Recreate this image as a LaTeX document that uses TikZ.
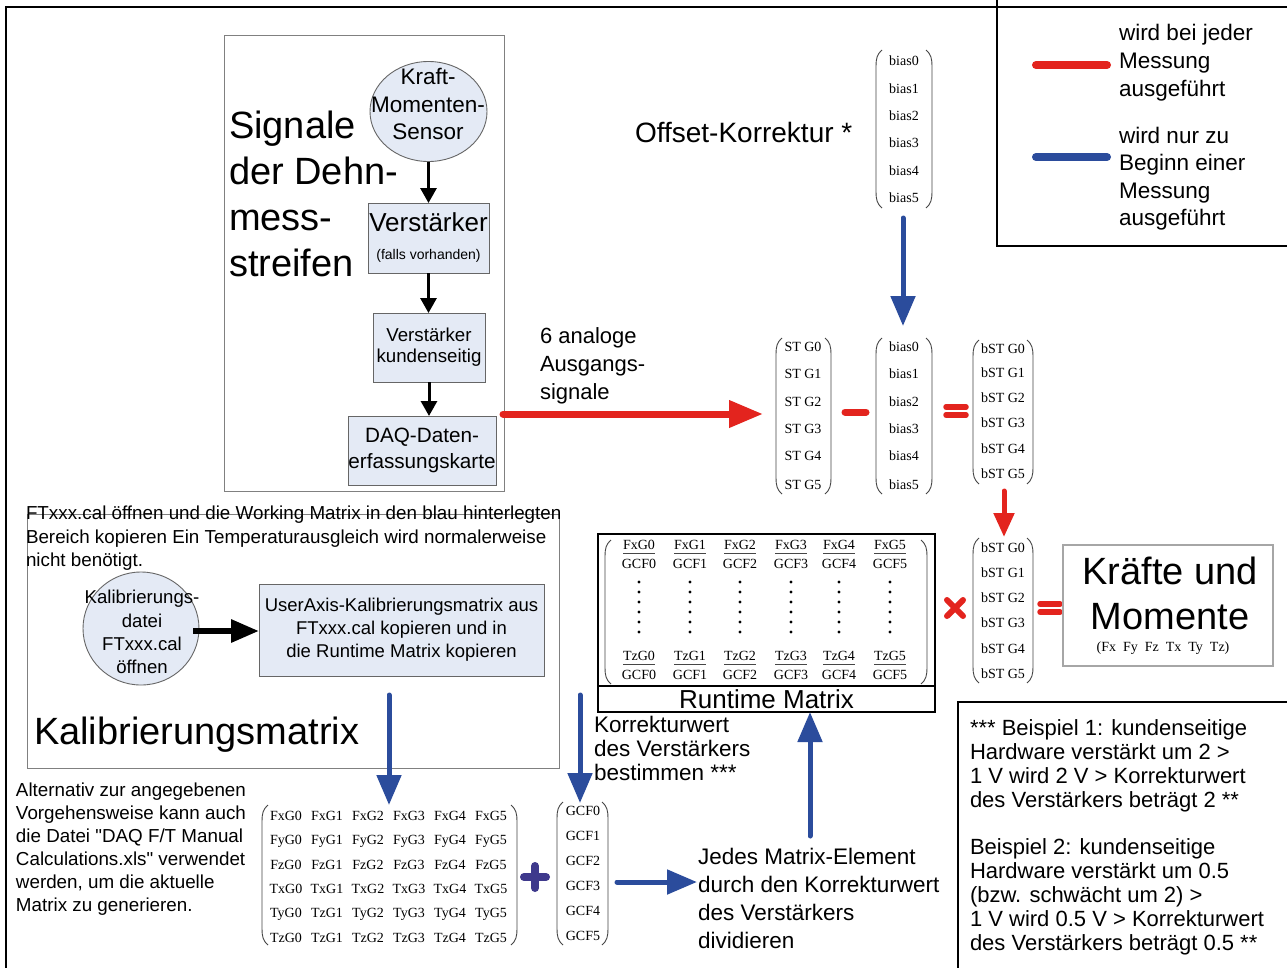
\documentclass[tikz,border=0pt]{standalone}
\usepackage{fontspec}
\setmainfont{Liberation Sans}
\newfontfamily\tms{Liberation Serif}
\usetikzlibrary{arrows.meta,calc,shapes.geometric}
\definecolor{myred}{RGB}{227,36,30}
\definecolor{myblue}{RGB}{43,76,156}
\definecolor{mypurple}{RGB}{62,57,140}
\definecolor{lblue}{RGB}{228,234,245}
\definecolor{boxgray}{RGB}{128,128,128}
\definecolor{pargray}{RGB}{70,70,70}
\newcommand{\fsz}[2]{\fontsize{#1}{#2}\selectfont}
\newcommand{\dq}{\XeTeXglyph\XeTeXcharglyph"22\relax}
\newcommand{\lpar}[3]{\draw[parline] (#1+6,#2) .. controls (#1+1,#2+4) and (#1,#2+9) .. (#1,#2+16) -- (#1,#3-16) .. controls (#1,#3-9) and (#1+1,#3-4) .. (#1+6,#3);}
\newcommand{\rpar}[3]{\draw[parline] (#1-6,#2) .. controls (#1-1,#2+4) and (#1,#2+9) .. (#1,#2+16) -- (#1,#3-16) .. controls (#1,#3-9) and (#1-1,#3-4) .. (#1-6,#3);}
\begin{document}
\begin{tikzpicture}[x=1pt,y=-1pt,
  every node/.style={inner sep=0pt, outer sep=0pt},
  parline/.style={draw=pargray, line width=0.9},
  ment/.style={font=\tms\fsz{14}{16}, text height=9.5pt, text depth=0pt, anchor=center},
  bluebox/.style={draw=boxgray!80!black, fill=lblue, line width=0.9, align=center},
  blueell/.style={ellipse, draw=boxgray!80!black, fill=lblue, line width=0.9},
  grp/.style={draw=boxgray, line width=1},
  blkar/.style={line width=3, -{Triangle[length=15pt,width=16pt]}},
  redar/.style={draw=myred, line width=7, line cap=round, -{Triangle[length=34pt,width=26pt]}},
  redarb/.style={draw=myred, line width=5, line cap=round, -{Triangle[length=24pt,width=20pt]}},
  bluar/.style={draw=myblue, line width=5, line cap=round, -{Triangle[length=30pt,width=24pt]}},
  redsym/.style={draw=myred, line width=7, line cap=round},
  sans/.style={anchor=base west, align=left}
]
\useasboundingbox (0,0) rectangle (1287,967);
\clip (0,0) rectangle (1287,967);
\fill[white] (0,0) rectangle (1287,967);

% outer frame, legend frame, example frame
\draw[line width=2] (6,7) rectangle (1300,990);
\draw[line width=1.5] (997,-5) rectangle (1300,246);
\draw[line width=1.5] (958,702) rectangle (1300,990);

% group boxes
\draw[grp] (224,35) rectangle (504,491);
\draw[grp] (27,514) rectangle (559,768);

% ===== sensor chain =====
% (base anchor of a multi-line node = baseline of its last line)
\node[sans, font=\fsz{38}{46}] (sig) at (229,276) {Signale\\der Dehn-\\mess-\\streifen};
\node[blueell, minimum width=117, minimum height=100] (sensor) at (428.5,111.5) {};
\node[align=center, font=\fsz{22.5}{27.5}] (sensortxt) at (428,104) {Kraft-\\Momenten-\\Sensor};
\node[bluebox, minimum width=121, minimum height=70] (verst) at (428.5,238) {};
\node[font=\fsz{26}{30}] (versttxt) at (428.5,222) {Verstärker};
\node[font=\fsz{14}{16}] (verstsub) at (428.5,256) {(falls vorhanden)};
\node[bluebox, minimum width=112, minimum height=69, font=\fsz{18.7}{21}] (kund) at (429,347.5) {Verstärker\\kundenseitig};
\node[bluebox, minimum width=148, minimum height=69, font=\fsz{20.7}{26}] (daq) at (422,450.5) {DAQ-Daten-\\erfassungskarte};
\draw[blkar] (sensor.south) -- (verst.north);
\draw[blkar] (verst.south) -- (verst.south |- kund.north);
\draw[blkar] (kund.south) -- (kund.south |- daq.north);

% ===== signal path =====
\node[sans, font=\fsz{22}{28}] (analog) at (540,399) {6 analoge\\Ausgangs-\\signale};
\coordinate (stin) at (763,414);
\draw[redar] ($(daq.north east)+(7,-2)$) -- (stin);

\node[sans, font=\fsz{28}{32}] (offset) at (635,142) {Offset-Korrektur *};

% top bias vector
\lpar{876}{50}{208}\rpar{932}{50}{208}
\foreach \y [count=\i from 0] in {61,89,116,143,171,198}
  \node[ment] (bt\i) at (904,\y) {bias\i};
% ST vector
\lpar{776}{338}{494}\rpar{831}{338}{494}
\foreach \y [count=\i from 0] in {347,374,402,429,456,485}
  \node[ment] (st\i) at (803,\y) {ST G\i};
% bias vector
\lpar{876}{338}{494}\rpar{932}{338}{494}
\foreach \y [count=\i from 0] in {347,374,402,429,456,485}
  \node[ment] (bm\i) at (904,\y) {bias\i};
% bST vector 1
\lpar{973}{340}{484}\rpar{1033}{340}{484}
\foreach \y [count=\i from 0] in {349,373,398,423,449,474}
  \node[ment] (ba\i) at (1003,\y) {bST G\i};
% bST vector 2
\lpar{973}{538}{683}\rpar{1033}{538}{683}
\foreach \y [count=\i from 0] in {548,573,598,623,649,674}
  \node[ment] (bb\i) at (1003,\y) {bST G\i};

\coordinate (btbot) at (903,218);
\coordinate (bmtop) at (903,326);
\draw[bluar] (btbot) -- (bmtop);

% minus and equals
\draw[redsym] (845,412) -- (866,412);
\draw[redsym, line width=5.5] (946,407) -- (966,407) (946,415) -- (966,415);
\coordinate (bafoot) at (1004,491);
\coordinate (bbtop) at (1004,537);
\draw[redarb] (bafoot) -- (bbtop);

% times and equals
\draw[redsym, line width=6] (947,600) -- (963,616) (947,616) -- (963,600);
\draw[redsym, line width=5.5] (1040,604) -- (1060,604) (1040,612) -- (1060,612);

% Kraefte box
\node[draw=boxgray!70, line width=1.2, minimum width=210, minimum height=121] (kraefte) at (1168,605.5) {};
\node[font=\fsz{38}{46}] (kr1) at (1170,571) {Kräfte und};
\node[font=\fsz{38}{46}] (kr2) at (1170,617) {Momente};
\node[font=\tms\fsz{14}{16}] (kr3) at (1163,648) {(Fx\ \ Fy\ \ Fz\ \ Tx\ \ Ty\ \ Tz)};

% ===== Runtime matrix =====
\node[draw, line width=2, minimum width=337, minimum height=178] (rtbox) at (766.5,623) {};
\draw[line width=2] (598,686) -- (935,686);
\node[font=\fsz{26}{30}] (rtlabel) at (766.5,699) {Runtime Matrix};
\lpar{605}{540}{684}\rpar{927}{540}{684}
\foreach \x [count=\j from 0] in {639,690,740,791,839,890} {
  \node[ment] (rn\j) at (\x,545) {FxG\j};
  \draw[pargray, line width=0.8] (\x-16,553) -- (\x+16,553);
  \node[ment] (rd\j) at (\x,564) {GCF\j};
  \foreach \k in {0,...,5} \fill (\x,582+10*\k) circle (1.7);
  \node[ment] (rt\j) at (\x,656) {TzG\j};
  \draw[pargray, line width=0.8] (\x-16,664) -- (\x+16,664);
  \node[ment] (rb\j) at (\x,675) {GCF\j};
}

% ===== calibration part =====
\node[sans, font=\fsz{18.8}{23.5}] (ftxxx) at (26,566.5) {FTxxx.cal öffnen und die Working Matrix in den blau hinterlegten\\Bereich kopieren Ein Temperaturausgleich wird normalerweise\\nicht benötigt.};
\node[blueell, minimum width=116, minimum height=113] (kalib) at (141,628.5) {};
\node[align=center, font=\fsz{18.6}{23.3}] (kalibtxt) at (142,632) {Kalibrierungs-\\datei\\FTxxx.cal\\öffnen};
\node[bluebox, minimum width=285, minimum height=92, font=\fsz{18.5}{23}] (useraxis) at (401.5,630) {UserAxis-Kalibrierungsmatrix aus\\FTxxx.cal kopieren und in\\die Runtime Matrix kopieren};
\draw[line width=6, -{Triangle[length=28pt,width=22pt]}] ($(kalib.east)+(-6,2.5)$) -- ($(useraxis.west)+(0,1)$);
\node[sans, font=\fsz{38}{46}] (kalibm) at (34,744) {Kalibrierungsmatrix};

\node[sans, font=\fsz{18.8}{23}] (altern) at (16,911) {Alternativ zur angegebenen\\Vorgehensweise kann auch\\die Datei \dq DAQ F/T Manual\\Calculations.xls\dq{} verwendet\\werden, um die aktuelle\\Matrix zu generieren.};

% big matrix
\lpar{262}{805}{945}\rpar{517}{805}{945}
\foreach \y/\row [count=\i from 0] in {
  816/{FxG0,FxG1,FxG2,FxG3,FxG4,FxG5},
  840/{FyG0,FyG1,FyG2,FyG3,FyG4,FyG5},
  865/{FzG0,FzG1,FzG2,FzG3,FzG4,FzG5},
  889/{TxG0,TxG1,TxG2,TxG3,TxG4,TxG5},
  913/{TyG0,TzG1,TyG2,TyG3,TyG4,TyG5},
  938/{TzG0,TzG1,TzG2,TzG3,TzG4,TzG5}}
  \foreach \t [count=\j from 0] in \row
    \node[ment] (cm\i\j) at ({286+41*\j},\y) {\t};

% plus
\draw[mypurple, line width=8, line cap=round] (524,877) -- (546,877) (535,866) -- (535,888);

% GCF vector
\lpar{557}{802}{945}\rpar{608}{802}{945}
\foreach \y [count=\i from 0] in {811,836,861,886,911,936}
  \node[ment] (gcf\i) at (583,\y) {GCF\i};

% blue arrows
\coordinate (calA) at (389,695);
\coordinate (calAe) at (389,805);
\draw[bluar] (calA) -- (calAe);
\coordinate (calB) at (580,695);
\coordinate (calBe) at (580,803);
\draw[bluar] (calB) -- (calBe);
\coordinate (gcfout) at (617,882);
\coordinate (divin) at (697,882);
\draw[bluar] (gcfout) -- (divin);
\coordinate (upfoot) at (810,836);
\draw[bluar] (upfoot) -- (rtbox.south -| upfoot);

\node[sans, font=\fsz{22.5}{24}] (korr) at (594,780) {Korrekturwert\\des Verstärkers\\bestimmen ***};
\node[sans, font=\fsz{22.5}{27.7}] (jedes) at (698,948) {Jedes Matrix-Element\\durch den Korrekturwert\\des Verstärkers\\dividieren};

% ===== legend =====
\coordinate (lr1) at (1036,65);
\coordinate (lr2) at (1107,65);
\draw[myred, line width=8, line cap=round] (lr1) -- (lr2);
\coordinate (lb1) at (1036,157);
\coordinate (lb2) at (1107,157);
\draw[myblue, line width=8, line cap=round] (lb1) -- (lb2);
\node[sans, font=\fsz{22.5}{28}] (leg1) at (1119,96) {wird bei jeder\\Messung\\ausgeführt};
\node[sans, font=\fsz{22.5}{27.5}] (leg2) at (1119,225.5) {wird nur zu\\Beginn einer\\Messung\\ausgeführt};

% ===== examples =====
\node[sans, font=\fsz{22}{23.8}] (beisp) at (970,950) {*** Beispiel 1: kundenseitige\\Hardware verstärkt um 2 >\\1 V wird 2 V > Korrekturwert\\des Verstärkers beträgt 2 **\\[23.8pt]Beispiel 2: kundenseitige\\Hardware verstärkt um 0.5\\(bzw. schwächt um 2) >\\1 V wird 0.5 V > Korrekturwert\\des Verstärkers beträgt 0.5 **};
\end{tikzpicture}
\end{document}
